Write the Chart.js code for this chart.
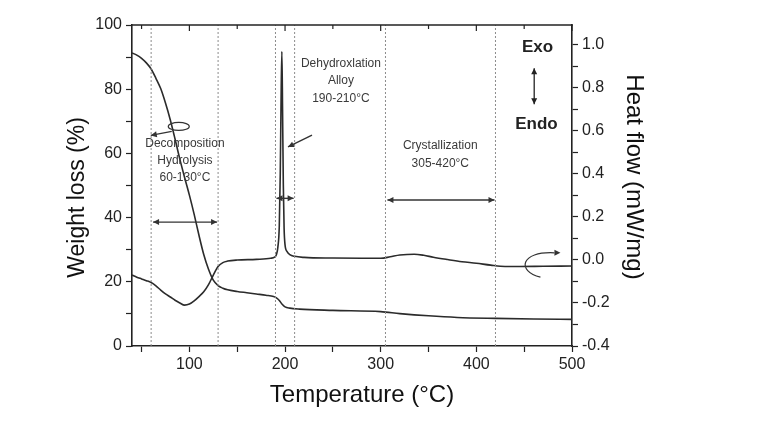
<!DOCTYPE html>
<html>
<head>
<meta charset="utf-8">
<title>TG / DSC</title>
<script src="https://cdn.jsdelivr.net/npm/chart.js@4.4.1/dist/chart.umd.min.js"></script>
<style>
  html, body { margin: 0; padding: 0; background: #fff; }
  #wrap { width: 782px; height: 430px; }
</style>
</head>
<body>
<div id="wrap"><canvas id="chart" width="782" height="430"></canvas></div>
<script>
// ── Datos ──────────────────────────────────────────────────────────────────
// Curva TG (eje izquierdo, %)
const TEMP_W = [40, 45, 50, 55, 60, 65, 70, 75, 80, 85, 90, 95, 100, 105, 110, 115, 120, 125, 130, 135,
                140, 150, 160, 170, 180, 188, 191, 194, 197, 200, 205, 215, 250, 300, 320, 350, 380, 420, 460, 500];
const WEIGHT = [91.3, 90.6, 89.6, 88.2, 86.3, 83.4, 80.2, 75.7, 70.5, 64.5, 58.2, 52.5, 47.0, 41.0, 34.5, 28.5, 23.9, 20.5, 18.8, 18.0,
                17.5, 17.0, 16.6, 16.2, 15.8, 15.4, 15.0, 14.2, 13.0, 12.2, 11.8, 11.5, 11.1, 10.7, 10.1, 9.4, 8.9, 8.6, 8.4, 8.3];

// Curva DSC (eje derecho, mW/mg)
const TEMP_HF = [40, 45, 50, 55, 60, 65, 70, 75, 80, 85, 90, 95, 100, 105, 110, 115, 120, 125, 130, 135,
                 140, 150, 170, 185, 189, 191, 192.5, 194, 195, 196, 196.7, 197.4, 198.2, 199, 200, 202, 205, 210,
                 220, 250, 280, 300, 310, 320, 335, 345, 355, 370, 385, 400, 415, 430, 445, 470, 500];
const HEAT_FLOW = [-0.07, -0.08, -0.088, -0.096, -0.105, -0.12, -0.14, -0.158, -0.172, -0.187, -0.2, -0.21, -0.205, -0.19, -0.17, -0.148, -0.115, -0.07, -0.03, -0.012,
                   -0.005, 0.0, 0.003, 0.008, 0.013, 0.025, 0.06, 0.16, 0.4, 0.8, 0.97, 0.7, 0.35, 0.15, 0.07, 0.04, 0.025, 0.017,
                   0.012, 0.009, 0.008, 0.008, 0.015, 0.023, 0.027, 0.022, 0.013, 0.002, -0.008, -0.015, -0.024, -0.03, -0.03, -0.029, -0.028];

// Límites de las etapas (líneas punteadas)
const BOUNDS = [60, 130, 190, 210, 305, 420];

// Ticks
const X_TICKS  = [50, 100, 150, 200, 250, 300, 350, 400, 450, 500];
const W_TICKS  = [0, 10, 20, 30, 40, 50, 60, 70, 80, 90, 100];
const HF_TICKS = [-0.4, -0.3, -0.2, -0.1, 0, 0.1, 0.2, 0.3, 0.4, 0.5, 0.6, 0.7, 0.8, 0.9, 1.0];

// ── Estilo ─────────────────────────────────────────────────────────────────
const FONT = "'Liberation Sans', Arial, sans-serif";
const INK  = '#222';
const TXT  = '#3a3a3a';
const LINE = '#2b2b2b';

Chart.defaults.font.family = FONT;
Chart.defaults.color = INK;

// Anotaciones en coordenadas de datos (T, % peso)
const NOTES = [
  { lines: ['Decomposition', 'Hydrolysis', '60-130°C'], t: 95.3,  w: 63.1, gap: 17 },
  { lines: ['Dehydroxlation', 'Alloy', '190-210°C'],    t: 258.4, w: 88.1, gap: 17.5 },
  { lines: ['Crystallization', '305-420°C'],            t: 362.3, w: 62.3, gap: 18 },
];
const SPANS = [
  { from: 61,  to: 130, w: 38.6 },
  { from: 190, to: 210, w: 46.0 },
  { from: 306, to: 420, w: 45.5 },
];

// ── Utils de dibujo ────────────────────────────────────────────────────────
function _head(ctx, x, y, ang, len = 6, half = 3) {
  ctx.save();
  ctx.translate(x, y);
  ctx.rotate(ang);
  ctx.beginPath();
  ctx.moveTo(0, 0);
  ctx.lineTo(-len, -half);
  ctx.lineTo(-len, half);
  ctx.closePath();
  ctx.fill();
  ctx.restore();
}

function _arrow(ctx, x1, y1, x2, y2, both) {
  ctx.beginPath();
  ctx.moveTo(x1, y1);
  ctx.lineTo(x2, y2);
  ctx.stroke();
  const a = Math.atan2(y2 - y1, x2 - x1);
  _head(ctx, x2, y2, a);
  if (both) _head(ctx, x1, y1, a + Math.PI);
}

// ── Plugin: marco superior, textos y flechas ───────────────────────────────
const annotations = {
  id: 'annotations',
  afterDraw(chart) {
    const { ctx, chartArea: a, scales: { x, y } } = chart;
    const px = t => x.getPixelForValue(t);
    const py = w => y.getPixelForValue(w);
    ctx.save();

    // borde superior con ticks hacia dentro
    ctx.strokeStyle = INK;
    ctx.lineWidth = 1.6;
    ctx.beginPath(); ctx.moveTo(a.left - 0.8, a.top); ctx.lineTo(a.right + 0.8, a.top); ctx.stroke();
    ctx.lineWidth = 1.2;
    X_TICKS.forEach(t => {
      const len = t % 100 === 0 ? 6 : 4;
      ctx.beginPath(); ctx.moveTo(px(t), a.top); ctx.lineTo(px(t), a.top + len); ctx.stroke();
    });

    // textos de etapas
    ctx.fillStyle = TXT;
    ctx.font = `12px ${FONT}`;
    ctx.textAlign = 'center';
    ctx.textBaseline = 'middle';
    NOTES.forEach(n => {
      n.lines.forEach((s, i) => ctx.fillText(s, px(n.t), py(n.w) + i * n.gap));
    });

    // flechas dobles de rangos
    ctx.strokeStyle = '#333';
    ctx.fillStyle = '#333';
    ctx.lineWidth = 1.4;
    SPANS.forEach(s => _arrow(ctx, px(s.from) + 1, py(s.w), px(s.to) - 1, py(s.w), true));

    // flecha hacia el pico
    _arrow(ctx, px(228.2), py(65.7), px(203.1), py(62.0), false);

    // bucle -> eje izquierdo
    const lx = px(88.9), ly = py(68.4);
    ctx.lineWidth = 1.2;
    ctx.beginPath(); ctx.ellipse(lx, ly, 10.5, 4, 0, 0, Math.PI * 2); ctx.stroke();
    _arrow(ctx, lx - 7, ly + 5, lx - 28, ly + 9, false);

    // bucle -> eje derecho
    const rx = px(467), ry = py(25.2);
    ctx.beginPath();
    ctx.moveTo(rx, ry + 12);
    ctx.bezierCurveTo(rx - 24, ry + 6, rx - 20, ry - 14, rx + 14, ry - 12.3);
    ctx.stroke();
    _head(ctx, rx + 20, ry - 12.3, 0);

    // Exo / Endo
    ctx.fillStyle = '#222';
    ctx.font = `bold 17px ${FONT}`;
    ctx.fillText('Exo', px(463.9), py(93.2));
    ctx.fillText('Endo', px(462.8), py(69.2));
    ctx.lineWidth = 1.4;
    _arrow(ctx, px(460.5), py(86.5), px(460.5), py(75.3), true);

    // títulos de ejes
    ctx.fillStyle = '#111';
    ctx.textBaseline = 'alphabetic';
    ctx.font = `24px ${FONT}`;
    ctx.fillText('Temperature (°C)', 362, 402);

    ctx.font = `23px ${FONT}`;
    ctx.save(); ctx.translate(83.5, 197.5); ctx.rotate(-Math.PI / 2);
    ctx.fillText('Weight loss (%)', 0, 0);
    ctx.restore();

    ctx.font = `24px ${FONT}`;
    ctx.save(); ctx.translate(627, 177); ctx.rotate(Math.PI / 2);
    ctx.fillText('Heat flow (mW/mg)', 0, 0);
    ctx.restore();

    ctx.restore();
  }
};

// ── Datasets ───────────────────────────────────────────────────────────────
const boundSets = BOUNDS.map(t => ({
  data: [{ x: t, y: 0 }, { x: t, y: 100 }],
  yAxisID: 'y',
  borderColor: '#8c8c8c',
  borderWidth: 1,
  borderDash: [2, 2],
  pointRadius: 0,
}));

const weightSet = {
  data: TEMP_W.map((t, i) => ({ x: t, y: WEIGHT[i] })),
  yAxisID: 'y',
  borderColor: LINE,
  borderWidth: 1.6,
  pointRadius: 0,
  cubicInterpolationMode: 'monotone',
};

const heatSet = {
  data: TEMP_HF.map((t, i) => ({ x: t, y: HEAT_FLOW[i] })),
  yAxisID: 'y1',
  borderColor: LINE,
  borderWidth: 1.6,
  pointRadius: 0,
  cubicInterpolationMode: 'monotone',
};

const axisGrid = { drawOnChartArea: false, drawTicks: true, tickLength: 6, tickColor: INK, tickWidth: 1.2 };
const axisBorder = { color: INK, width: 1.6 };

new Chart(document.getElementById('chart'), {
  type: 'line',
  data: { datasets: [...boundSets, weightSet, heatSet] },
  plugins: [annotations],
  options: {
    responsive: false,
    animation: false,
    layout: { padding: { top: 25 } },
    plugins: { legend: { display: false }, tooltip: { enabled: false } },
    scales: {
      x: {
        type: 'linear',
        min: 40, max: 500,
        grid: axisGrid, border: axisBorder,
        afterBuildTicks: s => { s.ticks = X_TICKS.map(v => ({ value: v })); },
        afterFit: s => { s.height = 84; },
        ticks: {
          font: { size: 16 }, padding: 3, autoSkip: false, maxRotation: 0,
          callback: v => (v % 100 === 0 ? v : ''),
        },
      },
      y: {
        position: 'left',
        min: 0, max: 100,
        grid: axisGrid, border: axisBorder,
        afterBuildTicks: s => { s.ticks = W_TICKS.map(v => ({ value: v })); },
        afterFit: s => { s.width = 132; },
        ticks: {
          font: { size: 16 }, padding: 4, autoSkip: false,
          callback: v => (v % 20 === 0 ? v : ''),
        },
      },
      y1: {
        position: 'right',
        min: -0.4, max: 1.093,
        grid: axisGrid, border: axisBorder,
        afterBuildTicks: s => { s.ticks = HF_TICKS.map(v => ({ value: v })); },
        afterFit: s => { s.width = 210; },
        ticks: {
          font: { size: 16 }, padding: 4, autoSkip: false,
          callback: v => (Math.round(v * 10) % 2 === 0 ? v.toFixed(1) : ''),
        },
      },
    },
  },
});
</script>
</body>
</html>
